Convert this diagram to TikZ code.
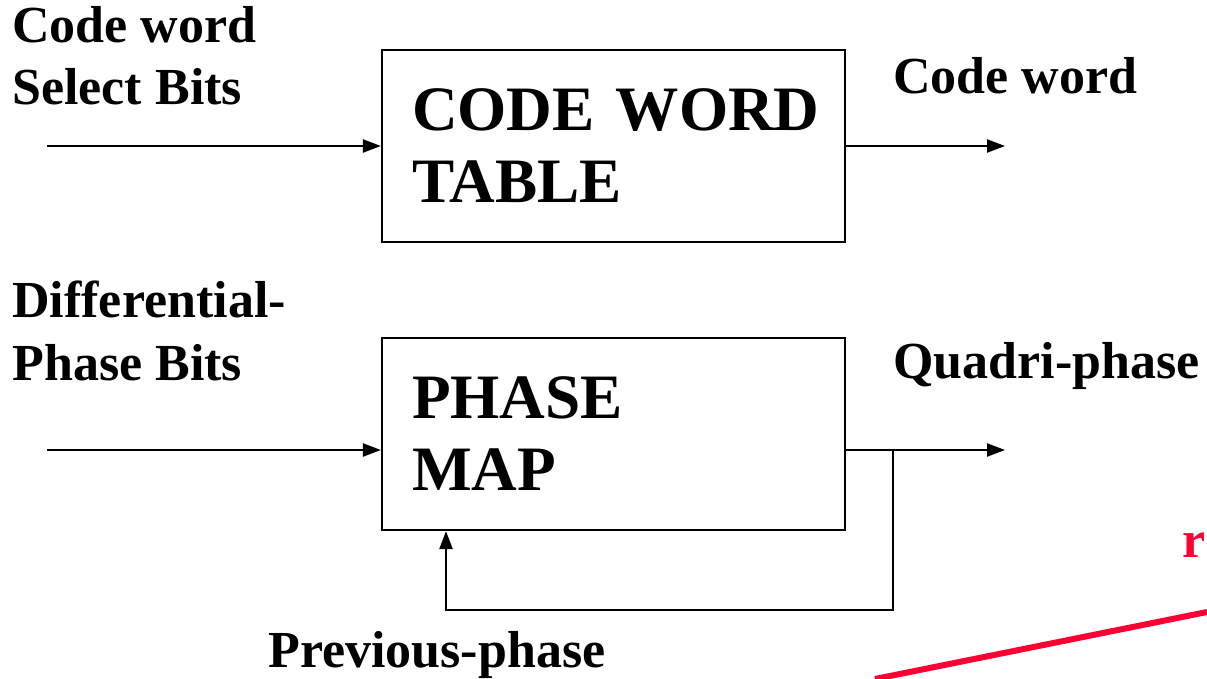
\documentclass[tikz,border=0pt]{standalone}
\usepackage{fontspec}
\setmainfont{Liberation Serif}
\usetikzlibrary{positioning}
\usetikzlibrary{arrows.meta}
\definecolor{slidered}{RGB}{255,0,51}
\tikzset{x=0.02cm, y=-0.02cm, % one unit is one pixel of the slide
block/.style={ % Sets the properties for each box
draw,
line width=0.045cm,
minimum height=3.84cm,
text width=8.06cm,
inner xsep=0.6cm,
align=left,
font=\bfseries\fontsize{36}{41}\selectfont},
lbl/.style={ % Labels beside the boxes, placed at the baseline of their last line
inner sep=0pt,
anchor=base west,
align=left,
font=\bfseries\fontsize{29.6}{35.7}\selectfont},
flow/.style={ % Sets the properties for each signal line
draw,
-{Triangle[length=0.36cm,width=0.26cm]},
line width=0.045cm}}

\begin{document}
\begin{tikzpicture}
	\useasboundingbox (0,0) rectangle (1207,679);

	\node[block] (tbl) at (613.5,146) {\mbox{CODE WORD}\\TABLE};
	\node[block] (pmap) at (613.5,434) {PHASE\\MAP};

	\node[lbl] (cwsel) at (12,105) {Code word\\Select Bits};
	\node[lbl] (cwout) at (893,93) {Code word};
	\node[lbl] (dpbits) at (12,380) {Differential-\\Phase Bits};
	\node[lbl] (qphase) at (893,378) {Quadri-phase};
	\node[lbl] (prev) at (268,667) {Previous-phase};
	\node[lbl, text=slidered] (rr) at (1182,557) {r};

	\coordinate (in1) at (47,146);
	\coordinate (out1) at (1005,146);
	\coordinate (in2) at (47,450);
	\coordinate (out2) at (1005,450);
	\coordinate (tap) at (893,450);
	\coordinate (fbk) at (446,610);

	\draw[flow] (in1) -- (in1 -| tbl.west);
	\draw[flow] (tbl.east) -- (out1);

	\draw[flow] (in2) -- (in2 -| pmap.west);
	\draw[flow] (in2 -| pmap.east) -- (out2);
	% feedback of the previous phase
	\draw[flow] (tap) |- (fbk) -- (fbk |- pmap.south);

	\coordinate (r1) at (875,679);
	\coordinate (r2) at (1207,612);
	\draw[slidered, line width=0.12cm] (r1) -- (r2);
\end{tikzpicture}
\end{document}
